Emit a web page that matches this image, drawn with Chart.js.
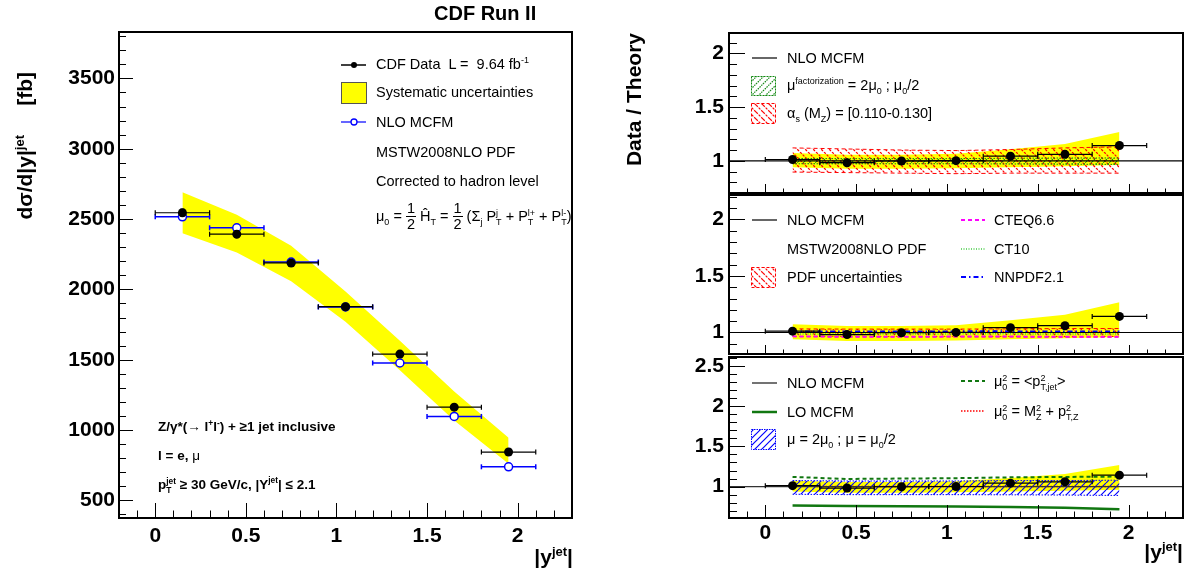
<!DOCTYPE html>
<html><head><meta charset="utf-8"><title>CDF Run II Z+jet rapidity</title>
<script src="https://cdn.jsdelivr.net/npm/chart.js@4.4.1/dist/chart.umd.min.js"></script>
<style>
html,body{margin:0;padding:0;background:#fff;}
#wrap{position:relative;width:1187px;height:578px;overflow:hidden;font-family:'Liberation Sans',Arial,Helvetica,sans-serif;color:#000;}
canvas{position:absolute;left:0;top:0;}
svg.sym{position:absolute;left:0;top:0;}
.t{position:absolute;white-space:nowrap;font-size:14.5px;line-height:1;}
.b{font-weight:bold;}
sup,sub{font-size:0.62em;line-height:0;position:relative;vertical-align:baseline;}
sup{top:-0.62em;} sub{top:0.45em;}
.ss{display:inline-block;vertical-align:-0.5em;font-size:0.62em;line-height:1.05;}
.ss>span{display:block;}
.fr{display:inline-block;vertical-align:-0.55em;text-align:center;line-height:1;}
.fr>span{display:block;}
.fr>span:first-child{border-bottom:1px solid #000;padding:0 1px;}
.rot{position:absolute;width:400px;text-align:right;transform-origin:100% 50%;transform:rotate(-90deg);white-space:nowrap;font-weight:bold;font-size:21px;line-height:22px;height:22px;}
.nb{font-weight:normal;}
</style></head>
<body>
<div id="wrap">
<canvas id="cMain" width="1187" height="578"></canvas>
<canvas id="cR1" width="1187" height="578"></canvas>
<canvas id="cR2" width="1187" height="578"></canvas>
<canvas id="cR3" width="1187" height="578"></canvas>

<svg class="sym" width="1187" height="578">
<defs>
<pattern id="hRed" width="7" height="7" patternUnits="userSpaceOnUse"><path d="M0,0 L7,7 M-1,6 L1,8 M6,-1 L8,1" stroke="#ff0000" stroke-width="1.2" stroke-dasharray="2.5,1.2"/></pattern>
<pattern id="hGreen" width="7" height="7" patternUnits="userSpaceOnUse"><path d="M0,7 L7,0 M-1,1 L1,-1 M6,8 L8,6" stroke="#118811" stroke-width="1.2" stroke-dasharray="1.5,1"/></pattern>
<pattern id="hBlue" width="7" height="7" patternUnits="userSpaceOnUse"><path d="M0,7 L7,0 M-1,1 L1,-1 M6,8 L8,6" stroke="#0000ff" stroke-width="1.2"/></pattern>
</defs>
<!-- left legend symbols -->
<line x1="341" y1="65" x2="366" y2="65" stroke="#000" stroke-width="1.5"/>
<circle cx="354" cy="65" r="3" fill="#000"/>
<rect x="341.5" y="82.5" width="25" height="21" fill="#ffff00" stroke="#555" stroke-width="1"/>
<line x1="341" y1="122" x2="366" y2="122" stroke="#3333ff" stroke-width="1.5"/>
<circle cx="354" cy="122" r="3" fill="#fff" stroke="#0000ff" stroke-width="1.3"/>
<!-- ratio panel 1 -->
<line x1="752" y1="58" x2="777" y2="58" stroke="#000" stroke-width="1.2"/>
<rect x="751.5" y="76.5" width="24" height="19" fill="url(#hGreen)" stroke="#118811" stroke-width="1" stroke-dasharray="2,1"/>
<rect x="751.5" y="103.5" width="24" height="20" fill="url(#hRed)" stroke="#ff0000" stroke-width="1" stroke-dasharray="3,2"/>
<!-- ratio panel 2 -->
<line x1="752" y1="220" x2="777" y2="220" stroke="#000" stroke-width="1.2"/>
<rect x="751.5" y="267.5" width="24" height="20" fill="url(#hRed)" stroke="#ff0000" stroke-width="1" stroke-dasharray="3,2"/>
<line x1="961" y1="220" x2="985" y2="220" stroke="#ff00ff" stroke-width="2" stroke-dasharray="4,3"/>
<line x1="961" y1="249" x2="985" y2="249" stroke="#44cc44" stroke-width="1.5" stroke-dasharray="1,1.5"/>
<line x1="961" y1="277" x2="985" y2="277" stroke="#0000ff" stroke-width="2" stroke-dasharray="5,3,1.5,3"/>
<!-- ratio panel 3 -->
<line x1="752" y1="383" x2="777" y2="383" stroke="#444" stroke-width="1.5"/>
<line x1="752" y1="412" x2="777" y2="412" stroke="#117711" stroke-width="2.5"/>
<rect x="751.5" y="429.5" width="24" height="20" fill="url(#hBlue)" stroke="#0000ff" stroke-width="1" stroke-dasharray="1.5,1"/>
<line x1="961" y1="381" x2="985" y2="381" stroke="#117711" stroke-width="2" stroke-dasharray="4,3"/>
<line x1="961" y1="411" x2="985" y2="411" stroke="#ff0000" stroke-width="1.5" stroke-dasharray="1.5,1.5"/>
</svg>

<!-- titles -->
<div class="t b" style="left:434px;top:3px;font-size:20px;">CDF Run II</div>
<div class="rot" style="left:-375px;top:61px;">dσ/d|y|<sup>jet</sup>&nbsp;&nbsp;&nbsp;&nbsp;&nbsp;[fb]</div>
<div class="rot" style="left:234px;top:22px;">Data / Theory</div>
<div class="t b" style="right:614px;top:546px;font-size:21px;">|y<sup>jet</sup>|</div>
<div class="t b" style="right:4px;top:541px;font-size:21px;">|y<sup>jet</sup>|</div>

<!-- left legend -->
<div class="t" style="left:376px;top:57px;">CDF Data&nbsp; L =&nbsp; 9.64 fb<sup>-1</sup></div>
<div class="t" style="left:376px;top:85px;">Systematic uncertainties</div>
<div class="t" style="left:376px;top:115px;">NLO MCFM</div>
<div class="t" style="left:376px;top:145px;">MSTW2008NLO PDF</div>
<div class="t" style="left:376px;top:174px;">Corrected to hadron level</div>
<div class="t" style="left:376px;top:201px;">μ<sub>0</sub> = <span class="fr"><span>1</span><span>2</span></span> Ĥ<sub>T</sub> = <span class="fr"><span>1</span><span>2</span></span> (Σ<sub>j</sub> P<span class="ss"><span>j</span><span>T</span></span> + P<span class="ss"><span>l+</span><span>T</span></span> + P<span class="ss"><span>l-</span><span>T</span></span>)</div>

<div class="t b" style="left:158px;top:420px;font-size:13.5px;">Z/γ*(→ l<sup>+</sup>l<sup>-</sup>) + ≥1 jet inclusive</div>
<div class="t b" style="left:158px;top:449px;font-size:13.5px;">l = e, <span class="nb">μ</span></div>
<div class="t b" style="left:158px;top:477px;font-size:13.5px;">p<span class="ss"><span>jet</span><span>T</span></span> ≥ 30 GeV/c, |Y<sup>jet</sup>| ≤ 2.1</div>

<!-- ratio legends -->
<div class="t" style="left:787px;top:51px;">NLO MCFM</div>
<div class="t" style="left:787px;top:78px;">μ<sup>factorization</sup> = 2μ<sub>0</sub> ; μ<sub>0</sub>/2</div>
<div class="t" style="left:787px;top:106px;">α<sub>s</sub> (M<sub>Z</sub>) = [0.110-0.130]</div>

<div class="t" style="left:787px;top:213px;">NLO MCFM</div>
<div class="t" style="left:787px;top:242px;">MSTW2008NLO PDF</div>
<div class="t" style="left:787px;top:270px;">PDF uncertainties</div>
<div class="t" style="left:994px;top:213px;">CTEQ6.6</div>
<div class="t" style="left:994px;top:242px;">CT10</div>
<div class="t" style="left:994px;top:270px;">NNPDF2.1</div>

<div class="t" style="left:787px;top:376px;">NLO MCFM</div>
<div class="t" style="left:787px;top:405px;">LO MCFM</div>
<div class="t" style="left:787px;top:432px;">μ = 2μ<sub>0</sub> ; μ = μ<sub>0</sub>/2</div>
<div class="t" style="left:994px;top:374px;">μ<span class="ss"><span>2</span><span>0</span></span> = &lt;p<span class="ss"><span>2</span><span>T,jet</span></span>&gt;</div>
<div class="t" style="left:994px;top:404px;">μ<span class="ss"><span>2</span><span>0</span></span> = M<span class="ss"><span>2</span><span>Z</span></span> + p<span class="ss"><span>2</span><span>T,Z</span></span></div>
</div>

<script>
// ---------------- data ----------------
const binCenters   = [0.15, 0.45, 0.75, 1.05, 1.35, 1.65, 1.95];
const binHalfWidth = [0.15, 0.15, 0.15, 0.15, 0.15, 0.15, 0.15];

// d sigma / d|y| [fb]
const cdfData     = [2545, 2393, 2188, 1877, 1540, 1163, 844];
const cdfStatErr  = [25, 25, 22, 20, 18, 15, 12];
const nloMcfm     = [2516, 2438, 2195, 1875, 1477, 1097, 739];
const sysUpper    = [2690, 2530, 2310, 1985, 1635, 1275, 945];
const sysLower    = [2400, 2262, 2058, 1770, 1425, 1068, 760];

// Data / Theory
const ratioData     = [1.012, 0.982, 0.998, 1.001, 1.043, 1.060, 1.142];
const ratioErr      = [0.010, 0.010, 0.010, 0.010, 0.012, 0.013, 0.015];
const ratioSysUpper = [1.073, 1.057, 1.057, 1.065, 1.108, 1.157, 1.268];
const ratioSysLower = [0.940, 0.925, 0.925, 0.930, 0.940, 0.950, 0.960];
const alphaSUpper   = [1.120, 1.110, 1.100, 1.095, 1.105, 1.120, 1.130];
const alphaSLower   = [0.895, 0.890, 0.885, 0.880, 0.885, 0.885, 0.885];
const muFacUpper    = [1.022, 1.020, 1.020, 1.020, 1.024, 1.026, 1.026];
const muFacLower    = [0.972, 0.972, 0.972, 0.972, 0.970, 0.968, 0.966];
const pdfUpper      = [1.032, 1.030, 1.030, 1.030, 1.032, 1.035, 1.035];
const pdfLower      = [0.965, 0.962, 0.962, 0.962, 0.962, 0.960, 0.960];
const cteq66        = [0.966, 0.962, 0.962, 0.964, 0.964, 0.962, 0.963];
const ct10          = [0.988, 0.986, 0.986, 0.988, 0.988, 0.986, 0.986];
const nnpdf21       = [1.010, 1.008, 1.008, 1.010, 1.010, 1.008, 1.008];
const loMcfm        = [0.765, 0.760, 0.757, 0.754, 0.748, 0.738, 0.718];
const muPtJet       = [1.120, 1.095, 1.100, 1.105, 1.115, 1.120, 1.125];
const muMzPtz       = [1.005, 1.000, 1.000, 1.000, 1.002, 1.002, 1.002];
const scaleUpper    = [1.075, 1.070, 1.070, 1.070, 1.075, 1.075, 1.080];
const scaleLower    = [0.905, 0.900, 0.900, 0.900, 0.898, 0.895, 0.890];
const theoryRef     = [1, 1];

// axis tick labels
const xTickLabels      = [0, 0.5, 1, 1.5, 2];
const mainYTickLabels  = [500, 1000, 1500, 2000, 2500, 3000, 3500];
const r1YTickLabels    = [1, 1.5, 2];
const r2YTickLabels    = [1, 1.5, 2];
const r3YTickLabels    = [1, 1.5, 2, 2.5];

// ---------------- helpers ----------------
const FONT = "'Liberation Sans', Arial, Helvetica, sans-serif";
const W = 1187, H = 578;
const X_MIN = -0.2, X_MAX = 2.3;
const xy = (xs, ys) => xs.map((x, i) => ({x, y: ys[i]}));
const fmt = v => String(+(+v).toFixed(3));

function hatch(color, dir, s, dash) {
  const c = document.createElement('canvas'); c.width = s; c.height = s;
  const g = c.getContext('2d');
  g.strokeStyle = color; g.lineWidth = 1.2; if (dash) g.setLineDash(dash);
  g.beginPath();
  for (const k of [-1, 0, 1]) {
    if (dir === '\\') { g.moveTo(k * s, 0); g.lineTo(k * s + s, s); }
    else { g.moveTo(k * s, s); g.lineTo(k * s + s, 0); }
  }
  g.stroke();
  return g.createPattern(c, 'repeat');
}
const ctx0 = document.getElementById('cMain').getContext('2d');

// error bars drawn before the dataset's own points
const errPlugin = {
  id: 'errbars',
  beforeDatasetDraw(chart, args) {
    const ds = chart.data.datasets[args.index];
    if (!ds.xerr && !ds.yerr) return;
    const {ctx} = chart, xs = chart.scales.x, ys = chart.scales.y;
    ctx.save();
    ctx.strokeStyle = ds.errColor || '#000';
    ctx.lineWidth = ds.errWidth || 1.2;
    const cap = ds.capSize || 3;
    const seg = (a, b, c, d) => { ctx.beginPath(); ctx.moveTo(a, b); ctx.lineTo(c, d); ctx.stroke(); };
    ds.data.forEach((p, i) => {
      const px = xs.getPixelForValue(p.x), py = ys.getPixelForValue(p.y);
      if (ds.xerr) {
        const x0 = xs.getPixelForValue(p.x - ds.xerr[i]), x1 = xs.getPixelForValue(p.x + ds.xerr[i]);
        seg(x0, py, x1, py); seg(x0, py - cap, x0, py + cap); seg(x1, py - cap, x1, py + cap);
      }
      if (ds.yerr) {
        const y0 = ys.getPixelForValue(p.y - ds.yerr[i]), y1 = ys.getPixelForValue(p.y + ds.yerr[i]);
        seg(px, y0, px, y1); seg(px - 2, y0, px + 2, y0); seg(px - 2, y1, px + 2, y1);
      }
    });
    ctx.restore();
  }
};

// ROOT-like frame with inward major / minor ticks
const frameTicks = {
  id: 'frameTicks',
  afterDatasetsDraw(chart, args, o) {
    const {ctx, chartArea: a} = chart, xs = chart.scales.x, ys = chart.scales.y;
    ctx.save(); ctx.strokeStyle = '#000'; ctx.lineWidth = 1;
    const isMajor = (v, m) => Math.abs(v / m - Math.round(v / m)) < 1e-6;
    for (let k = Math.ceil(xs.min / o.xMinor - 1e-6); k * o.xMinor <= xs.max + 1e-9; k++) {
      const v = k * o.xMinor, px = Math.round(xs.getPixelForValue(v)) + 0.5;
      const L = isMajor(v, o.xMajor) ? o.xMajLen : o.xMinLen;
      ctx.beginPath(); ctx.moveTo(px, a.bottom); ctx.lineTo(px, a.bottom - L); ctx.stroke();
    }
    for (let k = Math.ceil(ys.min / o.yMinor - 1e-6); k * o.yMinor <= ys.max + 1e-9; k++) {
      const v = k * o.yMinor, py = Math.round(ys.getPixelForValue(v)) + 0.5;
      const L = isMajor(v, o.yMajor) ? o.yMajLen : o.yMinLen;
      ctx.beginPath(); ctx.moveTo(a.left, py); ctx.lineTo(a.left + L, py); ctx.stroke();
    }
    ctx.lineWidth = 2;
    ctx.strokeRect(a.left, a.top, a.right - a.left, a.bottom - a.top);
    ctx.restore();
  }
};

function options(p) {
  const tickFont = {family: FONT, size: 21, weight: 'bold'};
  return {
    responsive: false, animation: false, events: [],
    layout: {autoPadding: false, padding: {left: 0, top: p.t, right: W - p.r, bottom: H - p.b - p.xh}},
    plugins: {legend: {display: false}, tooltip: {enabled: false}, frameTicks: p.ticks},
    scales: {
      x: {
        type: 'linear', min: X_MIN, max: X_MAX,
        grid: {display: false, drawTicks: false}, border: {display: false},
        afterFit: s => { s.height = p.xh; },
        afterBuildTicks: s => { s.ticks = xTickLabels.map(v => ({value: v})); },
        ticks: {display: p.xh > 0, padding: p.xpad, font: tickFont, color: '#000', maxRotation: 0, autoSkip: false, callback: v => fmt(v)}
      },
      y: {
        type: 'linear', min: p.ymin, max: p.ymax,
        grid: {display: false, drawTicks: false}, border: {display: false},
        afterFit: s => { s.width = p.l; },
        afterBuildTicks: s => { s.ticks = p.yLabels.map(v => ({value: v})); },
        ticks: {padding: p.ypad, font: tickFont, color: '#000', autoSkip: false, callback: v => fmt(v)}
      }
    }
  };
}

function band(upper, lower, fill, border, dash, order) {
  const common = {pointRadius: 0, tension: 0, order,
    borderColor: border || 'rgba(0,0,0,0)', borderWidth: border ? 1 : 0, borderDash: dash || []};
  return [
    Object.assign({data: xy(binCenters, upper), fill: '+1', backgroundColor: fill}, common),
    Object.assign({data: xy(binCenters, lower), fill: false}, common)
  ];
}
function curve(vals, color, width, dash, order) {
  return {data: xy(binCenters, vals), borderColor: color, borderWidth: width, borderDash: dash || [],
    pointRadius: 0, fill: false, tension: 0, order};
}
function unity(color, order) {
  return {data: xy([X_MIN, X_MAX], theoryRef), borderColor: color, borderWidth: 1.2, pointRadius: 0, fill: false, order};
}
function ratioPoints() {
  return {data: xy(binCenters, ratioData), xerr: binHalfWidth, yerr: ratioErr, errColor: '#000', errWidth: 1.2, capSize: 2.5,
    showLine: false, pointRadius: 4.5, pointBackgroundColor: '#000', pointBorderWidth: 0, order: 0};
}

const redHatch   = hatch('#ff0000', '\\', 8, [2.5, 1.2]);
const greenHatch = hatch('#118811', '/', 6, [1.5, 1]);
const blueHatch  = hatch('#0000ff', '/', 7, null);

const ratioTicks = (xMaj) => ({xMinor: 0.1, xMajor: 0.5, xMajLen: xMaj, xMinLen: xMaj / 2,
                               yMinor: 0.1, yMajor: 0.5, yMajLen: 16, yMinLen: 8});

// ---------------- main panel ----------------
new Chart(document.getElementById('cMain'), {
  type: 'line',
  data: {datasets: [
    ...band(sysUpper, sysLower, '#ffff00', null, null, 10),
    {data: xy(binCenters, nloMcfm), xerr: binHalfWidth, errColor: '#0000ff', errWidth: 1.5, capSize: 2.5,
     showLine: false, pointRadius: 4, pointBackgroundColor: '#fff', pointBorderColor: '#0000ff', pointBorderWidth: 1.5, order: 2},
    {data: xy(binCenters, cdfData), xerr: binHalfWidth, yerr: cdfStatErr, errColor: '#000', errWidth: 1.2, capSize: 2.5,
     showLine: false, pointRadius: 4.5, pointBackgroundColor: '#000', pointBorderWidth: 0, order: 1}
  ]},
  options: options({l: 119, t: 32, r: 572, b: 518, xh: 40, xpad: 6, ypad: 4, ymin: 375, ymax: 3830,
    yLabels: mainYTickLabels,
    ticks: {xMinor: 0.1, xMajor: 0.5, xMajLen: 15, xMinLen: 7.5, yMinor: 100, yMajor: 500, yMajLen: 14, yMinLen: 7}}),
  plugins: [errPlugin, frameTicks]
});

// ---------------- ratio panel 1 : scale / alpha_s ----------------
new Chart(document.getElementById('cR1'), {
  type: 'line',
  data: {datasets: [
    ...band(ratioSysUpper, ratioSysLower, '#ffff00', null, null, 10),
    ...band(alphaSUpper, alphaSLower, redHatch, '#ff0000', [4, 3], 9),
    ...band(muFacUpper, muFacLower, greenHatch, '#118811', [1.5, 1.5], 8),
    unity('#000', 3),
    ratioPoints()
  ]},
  options: options({l: 729, t: 33, r: 1183, b: 193, xh: 0, xpad: 0, ypad: 5, ymin: 0.7, ymax: 2.19,
    yLabels: r1YTickLabels, ticks: ratioTicks(9)}),
  plugins: [errPlugin, frameTicks]
});

// ---------------- ratio panel 2 : PDFs ----------------
new Chart(document.getElementById('cR2'), {
  type: 'line',
  data: {datasets: [
    ...band(ratioSysUpper, ratioSysLower, '#ffff00', null, null, 10),
    ...band(pdfUpper, pdfLower, redHatch, '#ff0000', [4, 3], 9),
    curve(cteq66, '#ff00ff', 2, [4, 3], 6),
    curve(ct10, '#44cc44', 1.5, [1, 1.5], 6),
    curve(nnpdf21, '#0000ff', 2, [5, 3, 1.5, 3], 6),
    unity('#000', 3),
    ratioPoints()
  ]},
  options: options({l: 729, t: 195, r: 1183, b: 354, xh: 0, xpad: 0, ypad: 5, ymin: 0.81, ymax: 2.215,
    yLabels: r2YTickLabels, ticks: ratioTicks(9)}),
  plugins: [errPlugin, frameTicks]
});

// ---------------- ratio panel 3 : scale choices ----------------
new Chart(document.getElementById('cR3'), {
  type: 'line',
  data: {datasets: [
    ...band(ratioSysUpper, ratioSysLower, '#ffff00', null, null, 10),
    ...band(scaleUpper, scaleLower, blueHatch, '#0000ff', [1.5, 1.5], 9),
    curve(muPtJet, '#117711', 2, [4, 3], 6),
    curve(muMzPtz, '#ff0000', 1.5, [1.5, 1.5], 6),
    curve(loMcfm, '#117711', 2.5, null, 6),
    unity('#333', 3),
    ratioPoints()
  ]},
  options: options({l: 729, t: 357, r: 1183, b: 518, xh: 40, xpad: 3, ypad: 5, ymin: 0.61, ymax: 2.61,
    yLabels: r3YTickLabels, ticks: ratioTicks(13)}),
  plugins: [errPlugin, frameTicks]
});
</script>
</body></html>
